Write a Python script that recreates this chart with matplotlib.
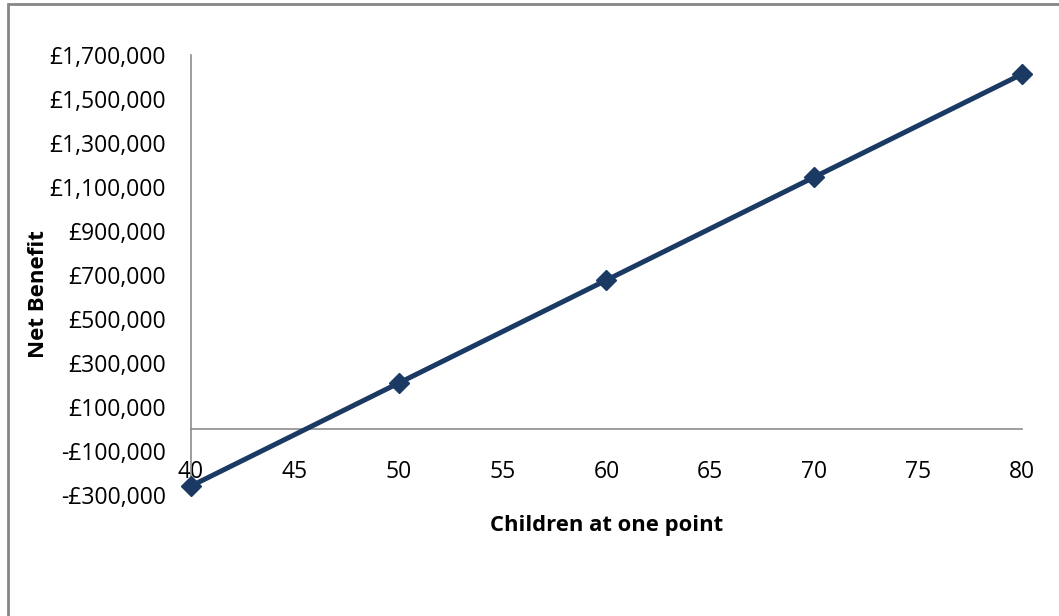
import matplotlib.pyplot as plt
from matplotlib.patches import Rectangle
from matplotlib.ticker import FuncFormatter

# --- data ---
children = [40, 50, 60, 70, 80]
net_benefit = [-259000, 209000, 677000, 1145000, 1613000]
x_ticks = [40, 45, 50, 55, 60, 65, 70, 75, 80]
y_ticks = [-300000, -100000, 100000, 300000, 500000, 700000, 900000,
           1100000, 1300000, 1500000, 1700000]


def pounds(v, pos=None):
    s = "£{:,.0f}".format(abs(v))
    return "-" + s if v < 0 else s


def main():
    plt.rcParams["font.family"] = ["Open Sans", "DejaVu Sans"]
    fig = plt.figure(figsize=(10.59, 6.16), dpi=100)
    ax = fig.add_axes([0.1804, 0.1964, 0.965 - 0.1804, 0.9107 - 0.1964])

    # outer chart border (left and top edges visible)
    fig.patches.append(Rectangle((7.5 / 1059, -0.01), 1.01, 1.01 - 4.5 / 616,
                                 transform=fig.transFigure, fill=False,
                                 edgecolor="#868686", linewidth=2))

    ax.plot(children, net_benefit, color="#1B3A63", linewidth=3.6,
            marker="D", markersize=10.5, clip_on=False, zorder=3)

    ax.set_xlim(40, 80)
    ax.set_ylim(-300000, 1700000)
    ax.set_xticks(x_ticks)
    ax.set_yticks(y_ticks)
    ax.yaxis.set_major_formatter(FuncFormatter(pounds))

    for side in ["top", "right"]:
        ax.spines[side].set_visible(False)
    ax.spines["bottom"].set_position(("data", 0))
    ax.spines["bottom"].set_color("#8C8C8C")
    ax.spines["left"].set_color("#8C8C8C")
    ax.spines["bottom"].set_linewidth(1.2)
    ax.spines["left"].set_linewidth(1.2)

    ax.tick_params(axis="x", length=0, pad=22, labelsize=16.5)
    ax.tick_params(axis="y", length=0, pad=18, labelsize=16.5)

    ax.set_xlabel("Children at one point", fontsize=15.8, fontweight="bold")
    ax.xaxis.set_label_coords(0.5, -0.045)
    ax.set_ylabel("Net Benefit", fontsize=16, fontweight="bold")
    ax.yaxis.set_label_coords(-0.171, 0.457)

    fig.savefig("out.png", dpi=100)


if __name__ == "__main__":
    main()
